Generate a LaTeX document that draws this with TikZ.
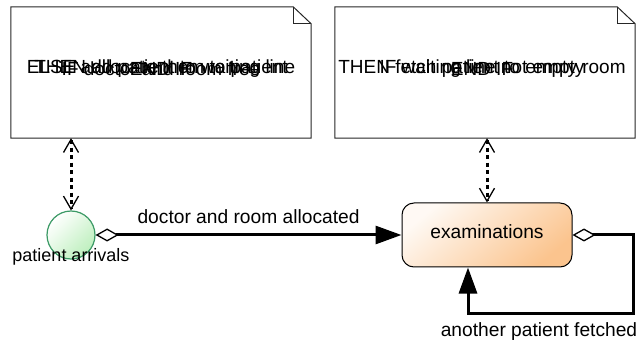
\documentclass[tikz,border=0pt]{standalone}
\usepackage{fontspec}
\setmainfont{Liberation Sans}
\usetikzlibrary{arrows.meta}
\definecolor{circfill}{HTML}{BDEFBD}
\definecolor{circdraw}{HTML}{3C9A66}
\definecolor{boxfill}{HTML}{FBC48E}
\begin{document}
\begin{tikzpicture}[x=1pt,y=-1pt,
  notebox/.style={minimum width=300pt,minimum height=131pt,inner sep=0pt},
  notetext/.style={font=\fontsize{19}{21}\selectfont,inner sep=0pt},
  lbl/.style={font=\fontsize{19.2}{21}\selectfont,inner sep=1pt},
  dotconn/.style={line width=3pt,dash pattern=on 4pt off 3.5pt,
    {Straight Barb[length=13pt,width=15pt,line width=1.3pt]}-{Straight Barb[length=13pt,width=15pt,line width=1.3pt]}},
  flow/.style={line width=3pt,
    {Diamond[open,length=23pt,width=13pt,line width=1.3pt,fill=white]}-{Triangle[length=26pt,width=18pt]}},
  outline/.style={draw=black!85,line width=1pt}]
\useasboundingbox (0,0) rectangle (638,342);

% notes
\node[notebox] (n1) at (161,72.5) {};
\node[notebox] (n2) at (485,72.5) {};
\foreach \n in {n1,n2}{
  \draw[outline] (\n.south west) -- (\n.north west) -- ([xshift=-18pt]\n.north east)
     -- ([yshift=-17pt]\n.north east) -- (\n.south east) -- cycle;
  \draw[outline] ([xshift=-18pt]\n.north east) -- ([xshift=-18pt,yshift=-17pt]\n.north east)
     -- ([yshift=-17pt]\n.north east);
}
% overlapping note texts (the reference prints these lines on top of each other)
\node[notetext] (t1a) at (161,69) {IF doctor and room free};
\node[notetext] (t1b) at (161,69) {THEN allocate them to patient};
\node[notetext] (t1c) at (161,69) {ELSE add patient to waiting line};
\node[notetext] (t1d) at (161,69) {END IF};
\node[notetext] (t2a) at (482,69) {IF waiting line not empty};
\node[notetext] (t2b) at (482,69) {THEN fetch patient to empty room};
\node[notetext] (t2c) at (482,69) {END IF};

% patient arrivals
\node[circle,minimum size=48pt,inner sep=0pt,draw=circdraw,line width=1.2pt,
  shading=axis,top color=white,bottom color=circfill,shading angle=45] (pa) at (71,235) {};
\node[font=\fontsize{18}{20}\selectfont,inner sep=0pt] (pal) at (71,257) {patient arrivals};

% examinations
\node[rectangle,rounded corners=12pt,minimum width=170pt,minimum height=64pt,
  draw=black,line width=1pt,shading=axis,top color=white!90!boxfill,bottom color=boxfill,
  shading angle=40,font=\fontsize{19.2}{21}\selectfont] (ex) at (487,235) {\raisebox{7pt}{examinations}};

% connectors
\draw[dotconn] (pa.north |- n1.south) -- (pa.north);
\draw[dotconn] (ex.north |- n2.south) -- (ex.north);
\draw[flow] (pa.east) -- node[lbl,above=9pt] (l1) {doctor and room allocated} (ex.west);
\coordinate (c1) at (633,313);
\draw[flow,line join=miter] (ex.east) -| (c1) -| ([xshift=-19pt]ex.south);
\node[lbl] (l2) at (539,332) {another patient fetched};
\end{tikzpicture}
\end{document}
